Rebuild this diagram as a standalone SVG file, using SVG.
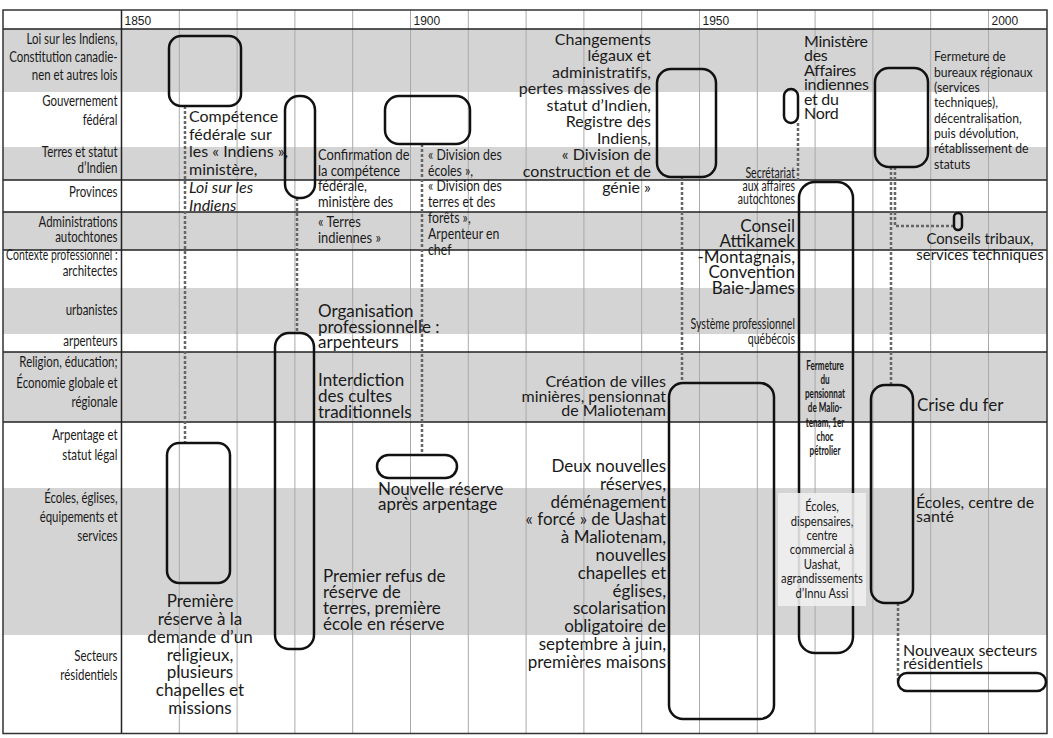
<svg xmlns="http://www.w3.org/2000/svg" width="1053" height="738" viewBox="0 0 1053 738">
<style>
text{font-family:Lato,"Liberation Sans",sans-serif;fill:#1a1a1a}
.lab{font-size:14.5px;text-anchor:end}
.yr{font-size:12px;font-family:"Liberation Sans",sans-serif}
.b{font-size:16px}
.b17{font-size:17px}
.c15{font-size:15px}
.c14{font-size:14px}
.e{text-anchor:end}
.m{text-anchor:middle}
.box{fill:none;stroke:#111;stroke-width:2.5}
.dot{fill:none;stroke:#666;stroke-width:2.5;stroke-dasharray:3 2}
.g{fill:#d4d4d4}
.grid{stroke:#a9a9a9;stroke-width:1;fill:none}
.hl{stroke:#222;stroke-width:1.5;fill:none}
</style>
<rect x="0" y="0" width="1053" height="738" fill="#fff"/>
<g id="bands">
<rect class="g" x="3" y="29" width="1044" height="63"/>
<rect class="g" x="3" y="147" width="1044" height="33"/>
<rect class="g" x="3" y="212" width="1044" height="38"/>
<rect class="g" x="3" y="288" width="1044" height="46"/>
<rect class="g" x="3" y="352" width="1044" height="70"/>
<rect class="g" x="3" y="488" width="1044" height="147"/>
</g>
<g id="grid">
<path class="grid" d="M179.3 10V733.5M237.1 10V733.5M294.9 10V733.5M352.7 10V733.5M410.5 10V733.5M468.3 10V733.5M526.1 10V733.5M583.9 10V733.5M641.7 10V733.5M699.5 10V733.5M757.3 10V733.5M815.1 10V733.5M872.9 10V733.5M930.7 10V733.5M988.5 10V733.5"/>
<path class="hl" d="M3 29H1047" stroke-width="1"/>
<path class="hl" d="M3 180H1047M3 212H1047M3 250H1047M3 352H1047M3 422H1047"/>
<path class="hl" d="M121.5 10V733.5"/>
<rect x="3" y="10" width="1044" height="723.5" fill="none" stroke="#333" stroke-width="1.5"/>
<text class="yr" x="124.5" y="25">1850</text>
<text class="yr" x="413.5" y="25">1900</text>
<text class="yr" x="702.5" y="25">1950</text>
<text class="yr" x="991.5" y="25">2000</text>
</g>
<g id="row-labels" transform="translate(117.5,0) scale(0.79,1)">
<text class="lab"><tspan x="0" y="44">Loi sur les Indiens,</tspan><tspan x="0" y="62">Constitution canadie-</tspan><tspan x="0" y="80">nen et autres lois</tspan></text>
<text class="lab"><tspan x="0" y="106">Gouvernement</tspan><tspan x="0" y="125">fédéral</tspan></text>
<text class="lab"><tspan x="0" y="157">Terres et statut</tspan><tspan x="0" y="173">d’Indien</tspan></text>
<text class="lab" x="0" y="197">Provinces</text>
<text class="lab"><tspan x="0" y="227">Administrations</tspan><tspan x="0" y="242">autochtones</tspan></text>
<text class="lab" x="0" y="260" textLength="141" lengthAdjust="spacingAndGlyphs">Contexte professionnel :</text>
<text class="lab" x="0" y="276">architectes</text>
<text class="lab" x="0" y="315">urbanistes</text>
<text class="lab" x="0" y="346">arpenteurs</text>
<text class="lab"><tspan x="0" y="367">Religion, éducation;</tspan><tspan x="0" y="388">Économie globale et</tspan><tspan x="0" y="407">régionale</tspan></text>
<text class="lab"><tspan x="0" y="440">Arpentage et</tspan><tspan x="0" y="460">statut légal</tspan></text>
<text class="lab"><tspan x="0" y="503">Écoles, églises,</tspan><tspan x="0" y="522">équipements et</tspan><tspan x="0" y="541">services</tspan></text>
<text class="lab"><tspan x="0" y="661">Secteurs</tspan><tspan x="0" y="680">résidentiels</tspan></text>
</g>
<g id="connectors">
<path class="dot" d="M185 106V443"/>
<path class="dot" d="M297 198V333"/>
<path class="dot" d="M422 144V455"/>
<path class="dot" d="M682 177V383"/>
<path class="dot" d="M798 123V182"/>
<path class="dot" d="M891 167V385"/>
<path class="dot" d="M895 167V226H954"/>
<path class="dot" d="M898 603V681"/>
</g>
<g id="n-competence">
<rect class="box" x="169" y="36" width="72" height="70" rx="12"/>
<text class="b"><tspan x="189" y="122">Compétence</tspan><tspan x="189" y="139.7">fédérale sur</tspan><tspan x="189" y="157.4">les « Indiens »,</tspan><tspan x="189" y="175.1">ministère,</tspan><tspan x="189" y="192.8" font-style="italic">Loi sur les</tspan><tspan x="189" y="210.5" font-style="italic">Indiens</tspan></text>
</g>
<g id="n-confirmation">
<rect class="box" x="285" y="96" width="30" height="102" rx="14"/>
<text class="c15" transform="translate(318,0) scale(0.86,1)"><tspan x="0" y="160.5">Confirmation de</tspan><tspan x="0" y="176">la compétence</tspan><tspan x="0" y="191.5">fédérale,</tspan><tspan x="0" y="207">ministère des</tspan><tspan x="0" y="227">« Terres</tspan><tspan x="0" y="243">indiennes »</tspan></text>
</g>
<g id="n-division">
<rect class="box" x="385" y="96" width="85" height="48" rx="14"/>
<text class="c15" transform="translate(428,0) scale(0.82,1)"><tspan x="0" y="160.5">« Division des</tspan><tspan x="0" y="176">écoles »,</tspan><tspan x="0" y="191.5">« Division des</tspan><tspan x="0" y="207.5">terres et des</tspan><tspan x="0" y="223.5">forêts »,</tspan><tspan x="0" y="239.5">Arpenteur en</tspan><tspan x="0" y="255">chef</tspan></text>
</g>
<g id="n-changements">
<rect class="box" x="657" y="69" width="59" height="108" rx="14"/>
<text class="b e"><tspan x="651" y="44.5">Changements</tspan><tspan x="651" y="61">légaux et</tspan><tspan x="651" y="77.5">administratifs,</tspan><tspan x="651" y="94">pertes massives de</tspan><tspan x="651" y="110.5">statut d’Indien,</tspan><tspan x="651" y="127">Registre des</tspan><tspan x="651" y="143.5">Indiens,</tspan><tspan x="651" y="160">« Division de</tspan><tspan x="651" y="176.5">construction et de</tspan><tspan x="651" y="193">génie »</tspan></text>
</g>
<g id="n-ministere">
<rect class="box" x="784" y="89" width="14" height="34" rx="7"/>
<text class="b" letter-spacing="-0.3"><tspan x="804" y="46.5">Ministère</tspan><tspan x="804" y="61">des</tspan><tspan x="804" y="75.5">Affaires</tspan><tspan x="804" y="90">indiennes</tspan><tspan x="804" y="104.5">et du</tspan><tspan x="804" y="119">Nord</tspan></text>
</g>
<g id="n-fermeture-bureaux">
<rect class="box" x="875" y="68" width="53" height="99" rx="14"/>
<text class="c14" transform="translate(934,0) scale(0.87,1)"><tspan x="0" y="61.5">Fermeture de</tspan><tspan x="0" y="76.8">bureaux régionaux</tspan><tspan x="0" y="92.1">(services</tspan><tspan x="0" y="107.4">techniques),</tspan><tspan x="0" y="122.7">décentralisation,</tspan><tspan x="0" y="138">puis dévolution,</tspan><tspan x="0" y="153.3">rétablissement de</tspan><tspan x="0" y="168.6">statuts</tspan></text>
</g>
<g id="n-secretariat">
<text class="c15 e" transform="translate(795,0) scale(0.7,1)"><tspan x="0" y="178">Secrétariat</tspan><tspan x="0" y="191">aux affaires</tspan><tspan x="0" y="204">autochtones</tspan></text>
</g>
<g id="n-conseils-tribaux">
<rect class="box" x="954" y="213" width="8" height="17" rx="4"/>
<text class="b m" transform="translate(980,0) scale(0.93,1)"><tspan x="0" y="244">Conseils tribaux,</tspan><tspan x="0" y="260">services techniques</tspan></text>
</g>
<g id="n-conseil-attikamek">
<text class="b17 e"><tspan x="795" y="231.7">Conseil</tspan><tspan x="795" y="247">Attikamek</tspan><tspan x="795" y="262.7">-Montagnais,</tspan><tspan x="795" y="278.3">Convention</tspan><tspan x="795" y="294">Baie-James</tspan></text>
</g>
<g id="n-systeme">
<text class="c15 e" transform="translate(795,0) scale(0.71,1)"><tspan x="0" y="329">Système professionnel</tspan><tspan x="0" y="344">québécois</tspan></text>
</g>
<g id="n-organisation">
<text class="b17"><tspan x="318" y="316.7">Organisation</tspan><tspan x="318" y="332.5">professionnelle :</tspan><tspan x="318" y="347.5">arpenteurs</tspan></text>
</g>
<g id="n-interdiction">
<rect class="box" x="275" y="333" width="39" height="316" rx="14"/>
<text class="b17"><tspan x="318" y="385.5">Interdiction</tspan><tspan x="318" y="401.5">des cultes</tspan><tspan x="318" y="417.5">traditionnels</tspan></text>
<text class="b17"><tspan x="323" y="582">Premier refus de</tspan><tspan x="323" y="597.5">réserve de</tspan><tspan x="323" y="613.5">terres, première</tspan><tspan x="323" y="629.5">école en réserve</tspan></text>
</g>
<g id="n-creation">
<rect class="box" x="669" y="383" width="105" height="336" rx="14"/>
<text class="b e"><tspan x="666" y="386.5">Création de villes</tspan><tspan x="666" y="401.5">minières, pensionnat</tspan><tspan x="666" y="416">de Maliotenam</tspan></text>
<text class="b17 e"><tspan x="666" y="472">Deux nouvelles</tspan><tspan x="666" y="489.8">réserves,</tspan><tspan x="666" y="507.6">déménagement</tspan><tspan x="666" y="525.4">« forcé » de Uashat</tspan><tspan x="666" y="543.2">à Maliotenam,</tspan><tspan x="666" y="561">nouvelles</tspan><tspan x="666" y="578.8">chapelles et</tspan><tspan x="666" y="596.6">églises,</tspan><tspan x="666" y="614.4">scolarisation</tspan><tspan x="666" y="632.2">obligatoire de</tspan><tspan x="666" y="650">septembre à juin,</tspan><tspan x="666" y="667.8">premières maisons</tspan></text>
</g>
<g id="n-pensionnat">
<rect class="box" x="799" y="182" width="54" height="471" rx="16"/>
<text class="m" font-size="13.5" font-weight="bold" transform="translate(825,0) scale(0.6,1)"><tspan x="0" y="370.5">Fermeture</tspan><tspan x="0" y="384.5">du</tspan><tspan x="0" y="398.5">pensionnat</tspan><tspan x="0" y="412.5">de Malio-</tspan><tspan x="0" y="427">tenam, 1er</tspan><tspan x="0" y="441.5">choc</tspan><tspan x="0" y="455.5">pétrolier</tspan></text>
<rect x="778" y="493" width="88" height="113" fill="#f0f0f0" fill-opacity="0.88"/>
<text class="c14 m" transform="translate(822,0) scale(0.8,1)"><tspan x="0" y="511.5">Écoles,</tspan><tspan x="0" y="526">dispensaires,</tspan><tspan x="0" y="540">centre</tspan><tspan x="0" y="554.5">commercial à</tspan><tspan x="0" y="569">Uashat,</tspan><tspan x="0" y="583.5">agrandissements</tspan><tspan x="0" y="598">d’Innu Assi</tspan></text>
</g>
<g id="n-crise">
<rect class="box" x="871" y="385" width="42" height="218" rx="14"/>
<text class="b17" x="917" y="411">Crise du fer</text>
<text class="b"><tspan x="916" y="508">Écoles, centre de</tspan><tspan x="916" y="522">santé</tspan></text>
</g>
<g id="n-secteurs">
<rect class="box" x="898" y="673" width="148" height="18" rx="9"/>
<text class="b"><tspan x="903" y="656">Nouveaux secteurs</tspan><tspan x="903" y="669">résidentiels</tspan></text>
</g>
<g id="n-premiere">
<rect class="box" x="167" y="443" width="63" height="140" rx="12"/>
<text class="b17 m"><tspan x="200" y="607">Première</tspan><tspan x="200" y="625">réserve à la</tspan><tspan x="200" y="643">demande d’un</tspan><tspan x="200" y="660.5">religieux,</tspan><tspan x="200" y="678">plusieurs</tspan><tspan x="200" y="696">chapelles et</tspan><tspan x="200" y="714">missions</tspan></text>
</g>
<g id="n-nouvelle">
<rect class="box" x="377" y="455" width="80" height="23" rx="11.5"/>
<text class="b17"><tspan x="378" y="495">Nouvelle réserve</tspan><tspan x="378" y="510">après arpentage</tspan></text>
</g>
</svg>
